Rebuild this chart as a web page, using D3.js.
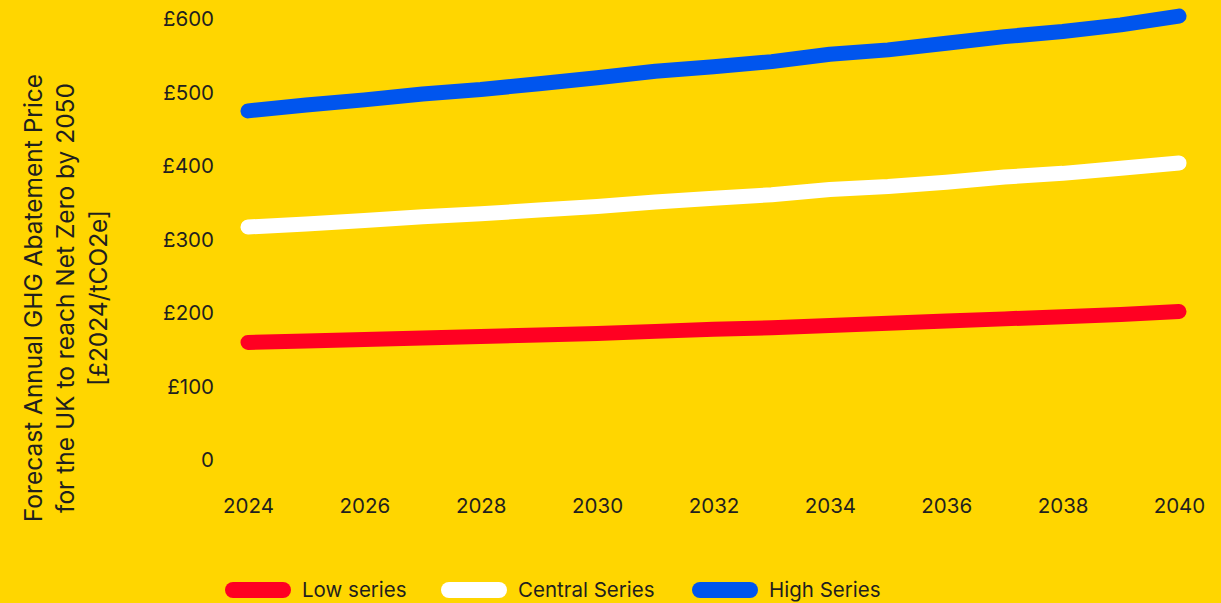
<!DOCTYPE html>
<html>
<head>
<meta charset="utf-8">
<script src="https://cdn.jsdelivr.net/npm/d3@7"></script>
<style>
  body { margin: 0; background: #FFD600; }
  text { font-family: Inter, "Noto Sans", sans-serif; fill: #1f1f1f; }
</style>
</head>
<body>
<svg id="chart"></svg>
<script>
// data
var years = [2024, 2025, 2026, 2027, 2028, 2029, 2030, 2031, 2032, 2033, 2034, 2035, 2036, 2037, 2038, 2039, 2040]
var lowSeries = [160, 162, 164, 166, 168, 170, 172, 175, 178, 180, 183, 186, 189, 192, 195, 198, 202]
var centralSeries = [317, 321, 326, 331, 335, 340, 345, 351, 356, 361, 368, 372, 378, 385, 390, 397, 404]
var highSeries = [475, 483, 490, 498, 504, 512, 520, 529, 535, 542, 552, 558, 567, 576, 583, 592, 604]
var yTicks = [0, 100, 200, 300, 400, 500, 600]
var xTicks = [2024, 2026, 2028, 2030, 2032, 2034, 2036, 2038, 2040]
var seriesNames = ["Low series", "Central Series", "High Series"]
var seriesColors = ["#FF0022", "#FFFFFF", "#0055EE"]
var titleLines = ["Forecast Annual GHG Abatement Price", "for the UK to reach Net Zero by 2050", "[£2024/tCO2e]"]

var width = 1221,
    height = 603

var svg = d3.select("#chart")
    .attr("width", width)
    .attr("height", height)

svg.append("rect")
    .attr("width", width)
    .attr("height", height)
    .attr("fill", "#FFD600")

var x = d3.scaleLinear()
    .domain([2024, 2040])
    .range([248, 1179])

var y = d3.scaleLinear()
    .domain([0, 600])
    .range([460, 19])

// y axis
var yAxis = svg.append("g")
    .attr("transform", "translate(214,0)")
    .call(d3.axisLeft(y).tickValues(yTicks).tickSize(0).tickPadding(0)
      .tickFormat(function(d){ return d === 0 ? "0" : "£" + d }))
yAxis.select(".domain").remove()
yAxis.selectAll("text")
    .style("font-size", "20.5px")
    .style("font-family", "Inter, 'Noto Sans', sans-serif")
    .attr("fill", "#1f1f1f")

// x axis
var xAxis = svg.append("g")
    .attr("transform", "translate(0,506)")
    .call(d3.axisBottom(x).tickValues(xTicks).tickSize(0).tickPadding(0)
      .tickFormat(d3.format("d")))
xAxis.select(".domain").remove()
xAxis.selectAll("text")
    .attr("dy", "0.35em")
    .style("font-size", "20.5px")
    .style("font-family", "Inter, 'Noto Sans', sans-serif")
    .attr("fill", "#1f1f1f")

// rotated y title
var title = svg.append("text")
    .attr("transform", "translate(33,298) rotate(-90)")
    .attr("text-anchor", "middle")
    .style("font-size", "24.5px")
title.selectAll("tspan")
    .data(titleLines)
    .enter()
    .append("tspan")
    .attr("x", 0)
    .attr("dy", function(d, i){ return i === 0 ? "0.35em" : "32.5px" })
    .text(function(d){ return d })

// lines
var allSeries = [lowSeries, centralSeries, highSeries]
var line = d3.line()
    .x(function(d, i){ return x(years[i]) })
    .y(function(d){ return y(d) })

svg.selectAll(".series")
    .data(allSeries)
    .enter()
    .append("path")
    .attr("class", "series")
    .attr("d", line)
    .attr("fill", "none")
    .attr("stroke", function(d, i){ return seriesColors[i] })
    .attr("stroke-width", 15)
    .attr("stroke-linecap", "round")
    .attr("stroke-linejoin", "round")

// legend
var legendX = [225, 441, 692]
var legend = svg.selectAll(".legend")
    .data(seriesNames)
    .enter()
    .append("g")
    .attr("class", "legend")
    .attr("transform", function(d, i){ return "translate(" + legendX[i] + ",590)" })

legend.append("rect")
    .attr("x", 0)
    .attr("y", -8)
    .attr("width", 66)
    .attr("height", 16)
    .attr("rx", 8)
    .attr("fill", function(d, i){ return seriesColors[i] })

legend.append("text")
    .attr("x", 77)
    .attr("dy", "0.35em")
    .style("font-size", "20.5px")
    .text(function(d){ return d })
</script>
</body>
</html>
